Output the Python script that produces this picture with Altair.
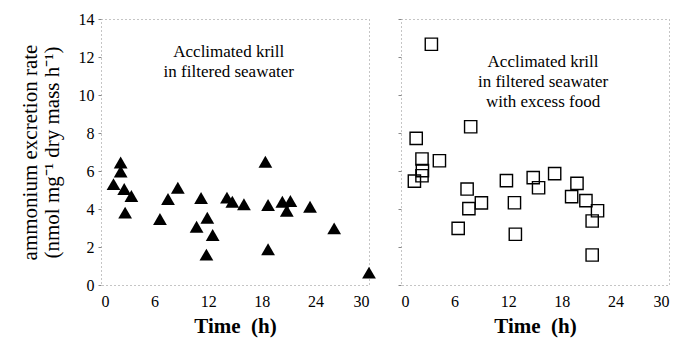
import altair as alt
import pandas as pd

# Left panel: acclimated krill in filtered seawater (triangles)
left_time = [1.4, 2.2, 2.2, 2.6, 3.4, 2.7, 6.6, 7.5, 8.6, 11.2, 11.9, 10.7, 12.5,
             11.8, 14.1, 14.7, 16.0, 18.4, 18.7, 18.7, 20.3, 21.2, 20.8, 23.4, 26.1, 30.0]
left_rate = [5.31, 6.45, 5.97, 5.05, 4.68, 3.81, 3.47, 4.53, 5.12, 4.58, 3.54, 3.07, 2.63,
             1.60, 4.60, 4.38, 4.25, 6.49, 4.21, 1.88, 4.38, 4.42, 3.91, 4.12, 2.98, 0.65]

# Right panel: with excess food (open squares)
right_time = [3.4, 7.8, 1.7, 2.35, 4.3, 2.4, 2.35, 1.5, 7.4, 9.0, 7.6, 6.4, 11.8,
              12.7, 12.8, 14.8, 15.4, 17.2, 19.7, 19.1, 20.7, 22.0, 21.4, 21.4]
right_rate = [12.67, 8.33, 7.72, 6.63, 6.54, 6.02, 5.75, 5.47, 5.05, 4.32, 4.02, 2.98, 5.49,
              4.33, 2.67, 5.65, 5.12, 5.86, 5.35, 4.65, 4.44, 3.91, 3.37, 1.58]

x_ticks = [0, 6, 12, 18, 24, 30]
y_ticks = [0, 2, 4, 6, 8, 10, 12, 14]
left_note = ["Acclimated krill\nin filtered seawater"]
right_note = ["Acclimated krill\nin filtered seawater\nwith excess food"]
y_title = ["ammonium excretion rate", "(nmol mg\u207b\u00b9 dry mass h\u207b\u00b9)"]
x_title = "Time\u00a0 (h)"

FONT = "Liberation Serif, Times New Roman, serif"
W, H = 268, 266

xs = alt.Scale(domain=[0, 30], nice=False)
ys = alt.Scale(domain=[0, 14], nice=False)

x_axis = alt.Axis(values=x_ticks, title=x_title, ticks=False, labelPadding=8,
                  titlePadding=6, domain=False, grid=False,
                  labelOverlap=False, titleFontWeight="bold")
y_axis_left = alt.Axis(values=y_ticks, title=y_title, tickSize=3, labelPadding=4,
                       titlePadding=16, domain=False, grid=False, titleLineHeight=22,
                       labelOverlap=False)
y_axis_right = alt.Axis(values=y_ticks, title=None, labels=False, tickSize=3,
                        domain=False, grid=False)

left_df = pd.DataFrame({"time": left_time, "rate": left_rate})
right_df = pd.DataFrame({"time": right_time, "rate": right_rate})

left_pts = alt.Chart(left_df).mark_point(
    shape="triangle-up", filled=True, color="black", size=190, opacity=1
).encode(
    x=alt.X("time:Q", scale=xs, axis=x_axis),
    y=alt.Y("rate:Q", scale=ys, axis=y_axis_left),
)
left_txt = alt.Chart(pd.DataFrame({"note": left_note})).mark_text(
    font=FONT, fontSize=17, lineBreak="\n", lineHeight=20, color="black",
    align="center", baseline="middle"
).encode(
    x=alt.XDatum(14.3, scale=xs, axis=x_axis, title=x_title),
    y=alt.YDatum(12.26, scale=ys, axis=y_axis_left, title=y_title),
    text="note:N",
)

right_pts = alt.Chart(right_df).mark_point(
    shape="square", filled=False, color="black", size=150, strokeWidth=1.4, opacity=1
).encode(
    x=alt.X("time:Q", scale=xs, axis=x_axis),
    y=alt.Y("rate:Q", scale=ys, axis=y_axis_right),
)
right_txt = alt.Chart(pd.DataFrame({"note": right_note})).mark_text(
    font=FONT, fontSize=17, lineBreak="\n", lineHeight=20, color="black",
    align="center", baseline="middle"
).encode(
    x=alt.XDatum(15.9, scale=xs, axis=x_axis, title=x_title),
    y=alt.YDatum(11.74, scale=ys, axis=y_axis_right),
    text="note:N",
)

left = alt.layer(left_pts, left_txt).properties(width=W, height=H)
right = alt.layer(right_pts, right_txt).properties(width=W, height=H)

chart = alt.hconcat(left, right, spacing=32, bounds="flush").properties(
    padding={"left": 10, "top": 2, "right": 5, "bottom": 5}
).configure_view(
    stroke="#8a8a8a", strokeDash=[1, 3], strokeWidth=1
).configure_axis(
    labelFont=FONT, titleFont=FONT, labelFontSize=16, titleFontSize=21,
    labelColor="black", titleColor="black", tickColor="#888888",
    titleFontWeight="normal"
).configure_axisY(labelOverlap=False).configure_text(font=FONT)

chart.save("out.html", embed_options={"renderer": "svg", "actions": False})
